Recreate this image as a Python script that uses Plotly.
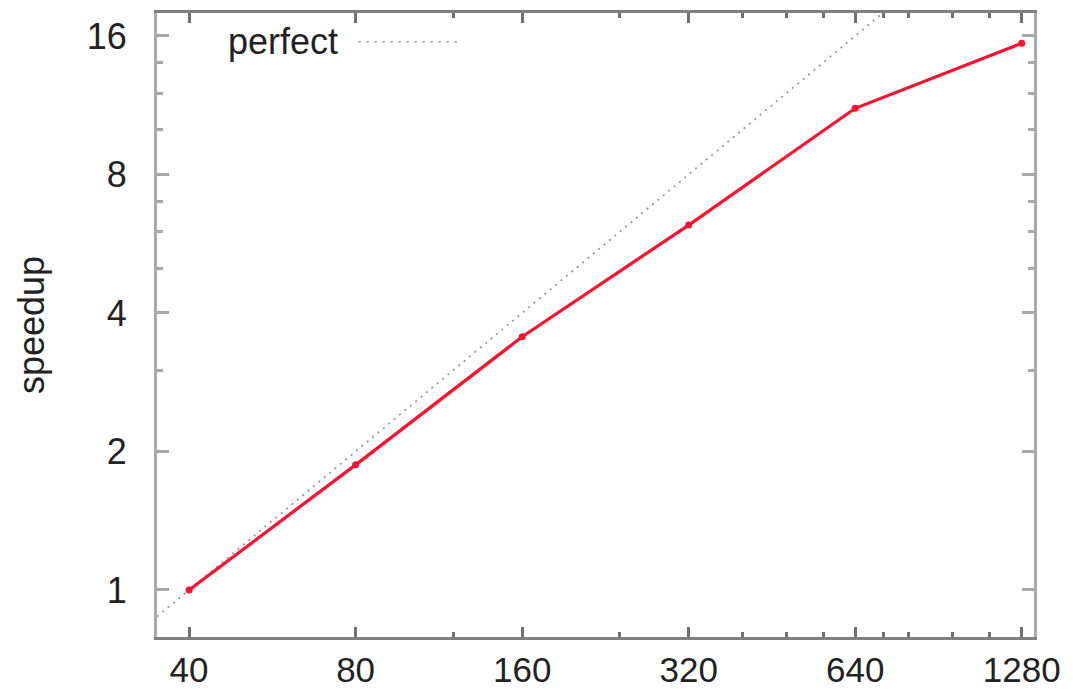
import plotly.graph_objects as go
import math

# ---- data ----
cores = [40, 80, 160, 320, 640, 1280]
speedup = [1.0, 1.87, 3.55, 6.21, 11.14, 15.42]

perfect_cores = [32, 40, 80, 160, 320, 640, 1280]
perfect_speedup = [0.8, 1, 2, 4, 8, 16, 32]

x_tickvals = [40, 80, 160, 320, 640, 1280]
x_ticktext = ["40", "80", "160", "320", "640", "1280"]
x_minor = [120, 240, 400, 480, 560, 720, 800, 960, 1120]
y_tickvals = [1, 2, 4, 8, 16]
y_ticktext = ["1", "2", "4", "8", "16"]
y_minor = [3, 5, 6, 7, 10, 12, 14]

FONT = "Liberation Sans, Arial, sans-serif"

fig = go.Figure()
fig.add_trace(go.Scatter(
    x=perfect_cores, y=perfect_speedup, mode="lines", name="perfect",
    line=dict(color="#999999", width=1.8, dash="2px,5px"),
    showlegend=False, hoverinfo="skip"))
fig.add_trace(go.Scatter(
    x=cores, y=speedup, mode="lines+markers", name="speedup",
    line=dict(color="#ff1030", width=3.2),
    marker=dict(color="#ff1030", size=7, symbol="circle"),
    showlegend=False))

fig.update_layout(
    width=1073, height=690,
    margin=dict(l=157, r=39, t=13, b=53),
    paper_bgcolor="white", plot_bgcolor="white",
    font=dict(family=FONT, size=36, color="#222222"),
    xaxis=dict(
        type="log", range=[math.log10(35.0), math.log10(1347)],
        tickmode="array", tickvals=x_tickvals, ticktext=x_ticktext,
        ticks="inside", ticklen=10, tickwidth=2.5, tickcolor="#707070",
        showline=True, linecolor="#7f7f7f", linewidth=3, mirror="allticks",
        showgrid=False, zeroline=False, ticklabelstandoff=0, automargin=False,
        minor=dict(tickmode="array", tickvals=x_minor, ticks="inside",
                   ticklen=5, tickwidth=2.5, tickcolor="#707070", showgrid=False),
        tickfont=dict(size=35, family=FONT, color="#222222"),
    ),
    yaxis=dict(
        type="log", range=[math.log10(0.79), math.log10(17.95)],
        tickmode="array", tickvals=y_tickvals, ticktext=y_ticktext,
        ticks="inside", ticklen=12, tickwidth=2.5, tickcolor="#a8a8a8",
        showline=True, linecolor="#aaaaaa", linewidth=3, mirror="allticks",
        showgrid=False, zeroline=False, ticklabelstandoff=20, automargin=False,
        minor=dict(tickmode="array", tickvals=y_minor, ticks="inside",
                   ticklen=6, tickwidth=2.5, tickcolor="#a8a8a8", showgrid=False),
        tickfont=dict(size=36, family=FONT, color="#222222"),
    ),
)

# y-axis title
fig.add_annotation(text="speedup", xref="paper", yref="paper",
                   x=(31 - 157) / (1034 - 157), y=(637 - 325) / (637 - 13),
                   textangle=-90, showarrow=False,
                   font=dict(size=36, family=FONT, color="#222222"),
                   xanchor="center", yanchor="middle")

# legend (gnuplot style: label then sample)
fig.add_annotation(text="perfect", xref="paper", yref="paper",
                   x=(340 - 157) / (1034 - 157), y=(637 - 42) / (637 - 13),
                   showarrow=False, xanchor="right", yanchor="middle",
                   font=dict(size=36, family=FONT, color="#222222"))
fig.add_shape(type="line", xref="paper", yref="paper",
              x0=(358 - 157) / (1034 - 157), x1=(460 - 157) / (1034 - 157),
              y0=(637 - 42) / (637 - 13), y1=(637 - 42) / (637 - 13),
              line=dict(color="#bbbbbb", width=2, dash="3px,5px"))

fig.write_html("out.html")
